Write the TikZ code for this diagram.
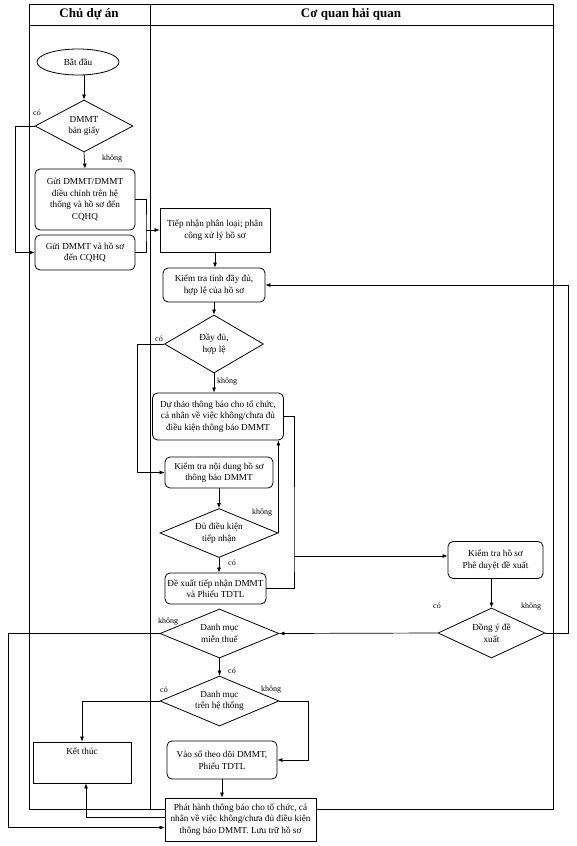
\documentclass[tikz,border=0pt]{standalone}
\usepackage{fontspec}
\setmainfont{Liberation Serif}
\usetikzlibrary{shapes.geometric,arrows.meta}
\begin{document}
\begin{tikzpicture}[x=1pt, y=-1pt, line width=0.7pt,
		every node/.style={font=\fontsize{9.2}{11.5}\selectfont, align=center, inner sep=0pt},
		hop/.style={draw, line width=0.8pt, fill=white},
		hopbo/.style={hop, rounded corners=5pt},
		thoi/.style={draw, line width=0.8pt, diamond, aspect=2.4},
		nhan/.style={font=\fontsize{8}{9}\selectfont},
		mui/.style={-{Latex[length=5pt,width=4pt]}}]
		
		\useasboundingbox (0,0) rectangle (576,846);
		
		% Khung hai lan (swimlane)
		\draw[line width=0.8pt] (29,4) rectangle (553,809);
		\draw[line width=0.8pt] (29,25) -- (553,25);
		\draw[line width=0.8pt] (150,4) -- (150,809);
		\node[font=\bfseries\fontsize{13}{15}\selectfont] (lan1) at (89,14) {Chủ dự án};
		\node[font=\bfseries\fontsize{13}{15}\selectfont] (lan2) at (351,14) {Cơ quan hải quan};
		
		% Chu du an
		\node[draw, line width=0.8pt, ellipse, minimum width=82pt, minimum height=26pt] (start) at (78,62) {Bắt đầu};
		\node[thoi, minimum width=98pt, minimum height=52pt] (d1) at (84,126) {DMMT\\bản giấy};
		\node[hopbo, minimum width=100pt, minimum height=61pt] (b1) at (85,199.5) {Gửi DMMT/DMMT\\điều chỉnh trên hệ\\thống và hồ sơ đến\\CQHQ};
		\node[hopbo, minimum width=100pt, minimum height=35pt] (b2) at (85,252.5) {Gửi DMMT và hồ sơ\\đến CQHQ};
		\node[hop, minimum width=98pt, minimum height=41pt, text height=8pt, text depth=25pt] (end) at (82,762.5) {Kết thúc};
		
		% Co quan hai quan
		\node[hop, minimum width=110pt, minimum height=44pt] (b3) at (215,230) {Tiếp nhận phân loại; phân\\công xử lý hồ sơ};
		\node[hopbo, minimum width=102pt, minimum height=34pt] (b4) at (214,285) {Kiểm tra tính đầy đủ,\\hợp lệ của hồ sơ};
		\node[thoi, minimum width=99pt, minimum height=58pt] (d2) at (214,344) {Đầy đủ,\\hợp lệ};
		\node[hopbo, minimum width=131pt, minimum height=47pt] (b5) at (218,416.5) {Dự thảo thông báo cho tổ chức,\\cá nhân về việc không/chưa đủ\\điều kiện thông báo DMMT};
		\node[hopbo, minimum width=108pt, minimum height=31pt] (b6) at (219,472.5) {Kiểm tra nội dung hồ sơ\\thông báo DMMT};
		\node[thoi, minimum width=118pt, minimum height=49pt] (d3) at (219,533) {Đủ điều kiện\\tiếp nhận};
		\node[hopbo, minimum width=101pt, minimum height=31pt] (b7) at (215.5,588.5) {Đề xuất tiếp nhận DMMT\\và Phiếu TDTL};
		\node[hopbo, minimum width=95pt, minimum height=37pt] (b8) at (495.5,560) {Kiểm tra hồ sơ\\Phê duyệt đề xuất};
		\node[thoi, minimum width=107pt, minimum height=50pt] (d4) at (491.5,633) {Đồng ý đề\\xuất};
		\node[thoi, minimum width=119pt, minimum height=49pt] (d5) at (219.5,633.5) {Danh mục\\miễn thuế};
		\node[thoi, minimum width=119pt, minimum height=50pt] (d6) at (219.5,701) {Danh mục\\trên hệ thống};
		\node[hopbo, minimum width=110pt, minimum height=38pt] (b9) at (222,760) {Vào sổ theo dõi DMMT,\\Phiếu TDTL};
		\node[hop, minimum width=151pt, minimum height=43pt] (b10) at (240.5,819.5) {Phát hành thông báo cho tổ chức, cá\\nhân về việc không/chưa đủ điều kiện\\thông báo DMMT. Lưu trữ hồ sơ};
		
		% Duong noi ben Chu du an
		\draw[mui] (start.south -| d1.north) -- (d1.north);
		\draw[mui] (d1.south) -- (b1.north);
		\node[nhan] (l1) at (112,159) {không};
		\draw[mui] (d1.west) -- (15,126) |- (b2.west);
		\node[nhan] (l2) at (37,113) {có};
		\coordinate (j1) at (146,230);
		\draw (b1.east) -| (j1) |- (b2.east);
		\draw[mui] (j1) -- (b3.west);
		
		% Kiem tra ho so
		\draw[mui] (b3.south) -- (b3.south |- b4.north);
		\draw[mui] (b4.south) -- (d2.north);
		\draw[mui] (d2.south) -- (d2.south |- b5.north);
		\node[nhan] (l3) at (227,382) {không};
		\draw[mui] (d2.west) -- (137,344) |- (b6.west);
		\node[nhan] (l4) at (159,339) {có};
		\draw[mui] (b6.south) -- (d3.north);
		\draw[mui] (d3.east) -- (d3.east |- b5.south);
		\node[nhan] (l5) at (262,513) {không};
		\draw[mui] (d3.south) -- (d3.south |- b7.north);
		\node[nhan] (l6) at (232,563) {có};
		\coordinate (j2) at (294,556);
		\draw (b5.east) -| (j2) |- (b7.east);
		\draw[mui] (j2) -- (j2 -| b8.west);
		
		% Phe duyet
		\draw[mui] (b8.south -| d4.north) -- (d4.north);
		\draw[mui] (d4.west) -- (d5.east);
		\node[nhan] (l7) at (437,606) {có};
		\draw[mui] (d4.east) -- (568,633) |- (b4.east);
		\node[nhan] (l8) at (531,607) {không};
		
		% Danh muc
		\draw[mui] (d5.south) -- (d6.north);
		\node[nhan] (l9) at (232,671) {có};
		\draw[mui] (d5.west) -- (8,633.5) |- ([yshift=-8pt]b10.west);
		\node[nhan] (l10) at (168,622) {không};
		\draw[mui] (d6.west) -| (end.north);
		\node[nhan] (l11) at (164,690) {có};
		\draw[mui] (d6.east) -- (308,701) |- (b9.east);
		\node[nhan] (l12) at (271,690) {không};
		\draw[mui] (b9.south) -- (b9.south |- b10.north);
		\draw[mui] ([yshift=2.5pt]b10.west) -| ([xshift=4pt]end.south);
		
	\end{tikzpicture}
\end{document}
